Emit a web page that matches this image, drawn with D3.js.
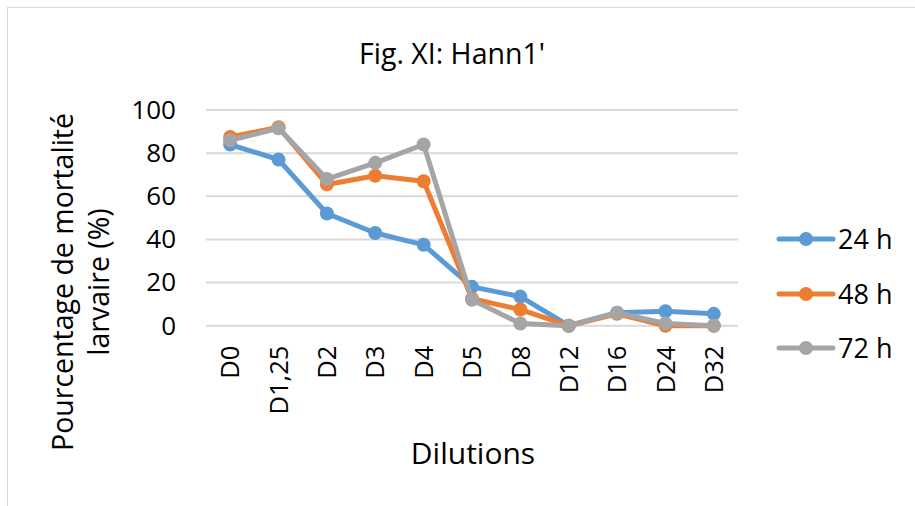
<!DOCTYPE html>
<html>
<head>
<meta charset="utf-8">
<script src="https://cdn.jsdelivr.net/npm/d3@7/dist/d3.min.js"></script>
<style>
  html, body { margin: 0; padding: 0; background: #fff; }
  svg { display: block; font-family: "Open Sans", sans-serif; }
</style>
</head>
<body>
<svg id="chart" width="915" height="506"></svg>
<script>
// Larval mortality (%) by dilution, three exposure times
const dilutions = ["D0", "D1,25", "D2", "D3", "D4", "D5", "D8", "D12", "D16", "D24", "D32"];
const mort24 = [84, 77, 52, 43, 37.5, 18, 13.5, 0, 6, 6.7, 5.5];
const mort48 = [87.5, 92, 65.5, 69.5, 67, 12.5, 7.5, 0, 5.5, 0, 0];
const mort72 = [86, 91.5, 68, 75.5, 84, 12, 1, 0, 6, 1, 0];
const seriesNames = ["24 h", "48 h", "72 h"];
const seriesColors = ["#5b9bd5", "#ed7d31", "#a5a5a5"];
const yTicks = [0, 20, 40, 60, 80, 100];

const series = [mort24, mort48, mort72].map((vals, i) => ({
  name: seriesNames[i], color: seriesColors[i], values: vals
}));

const svg = d3.select("#chart");

// chart area frame
svg.append("rect")
  .attr("x", 7.5).attr("y", 7.5).attr("width", 1000).attr("height", 1000)
  .attr("fill", "none").attr("stroke", "#d9d9d9").attr("stroke-width", 1);

const plot = { left: 206, right: 738, top: 110, bottom: 325.7 };

const x = d3.scaleBand().domain(dilutions).range([plot.left, plot.right]);
const y = d3.scaleLinear().domain([0, 100]).range([plot.bottom, plot.top]);

// gridlines
svg.append("g").selectAll("line").data(yTicks).join("line")
  .attr("x1", plot.left).attr("x2", plot.right)
  .attr("y1", d => y(d)).attr("y2", d => y(d))
  .attr("stroke", "#d9d9d9").attr("stroke-width", 2);

// y axis labels
const yAxis = svg.append("g")
  .attr("transform", `translate(${plot.left - 30},0)`)
  .call(d3.axisLeft(y).tickValues(yTicks).tickSize(0).tickPadding(0));
yAxis.select(".domain").remove();
yAxis.selectAll("text")
  .attr("font-size", 26).attr("fill", "#000")
  .attr("font-family", "'Open Sans', sans-serif");

// x axis labels (rotated)
const xAxis = svg.append("g")
  .attr("transform", `translate(0,${plot.bottom})`)
  .call(d3.axisBottom(x).tickSize(0).tickPadding(0));
xAxis.select(".domain").remove();
xAxis.selectAll("text")
  .attr("font-size", 25.5).attr("fill", "#000")
  .attr("font-family", "'Open Sans', sans-serif")
  .attr("text-anchor", "end")
  .attr("transform", "rotate(-90)")
  .attr("x", -20).attr("y", 0).attr("dy", "0.36em");

// series lines and markers
const line = d3.line()
  .x((d, i) => x(dilutions[i]) + x.bandwidth() / 2)
  .y(d => y(d));

series.forEach(s => {
  const g = svg.append("g");
  g.append("path")
    .attr("d", line(s.values))
    .attr("fill", "none").attr("stroke", s.color)
    .attr("stroke-width", 5).attr("stroke-linejoin", "round").attr("stroke-linecap", "round");
  g.selectAll("circle").data(s.values).join("circle")
    .attr("cx", (d, i) => x(dilutions[i]) + x.bandwidth() / 2)
    .attr("cy", d => y(d))
    .attr("r", 7)
    .attr("fill", s.color);
});

// title
svg.append("text")
  .attr("x", 452).attr("y", 64)
  .attr("text-anchor", "middle").attr("font-size", 28.5).attr("fill", "#000")
  .text("Fig. XI: Hann1'");

// x axis title
svg.append("text")
  .attr("x", 473).attr("y", 464)
  .attr("text-anchor", "middle").attr("font-size", 30).attr("fill", "#000")
  .text("Dilutions");

// y axis title (two lines)
const yTitle = svg.append("text")
  .attr("transform", "translate(0,282) rotate(-90)")
  .attr("text-anchor", "middle").attr("font-size", 28.5).attr("fill", "#000");
yTitle.append("tspan").attr("x", 0).attr("y", 63).attr("dy", "0.36em").text("Pourcentage de mortalité");
yTitle.append("tspan").attr("x", 0).attr("y", 99).attr("dy", "0.36em").text("larvaire (%)");

// legend
const legendY = [239, 294, 348];
series.forEach((s, i) => {
  const g = svg.append("g").attr("transform", `translate(0,${legendY[i]})`);
  g.append("line")
    .attr("x1", 779).attr("x2", 833).attr("y1", 0).attr("y2", 0)
    .attr("stroke", s.color).attr("stroke-width", 5).attr("stroke-linecap", "round");
  g.append("circle").attr("cx", 806).attr("cy", 0).attr("r", 7).attr("fill", s.color);
  g.append("text")
    .attr("x", 838).attr("y", 0).attr("dy", "0.36em")
    .attr("font-size", 27).attr("fill", "#000")
    .text(s.name);
});
</script>
</body>
</html>
